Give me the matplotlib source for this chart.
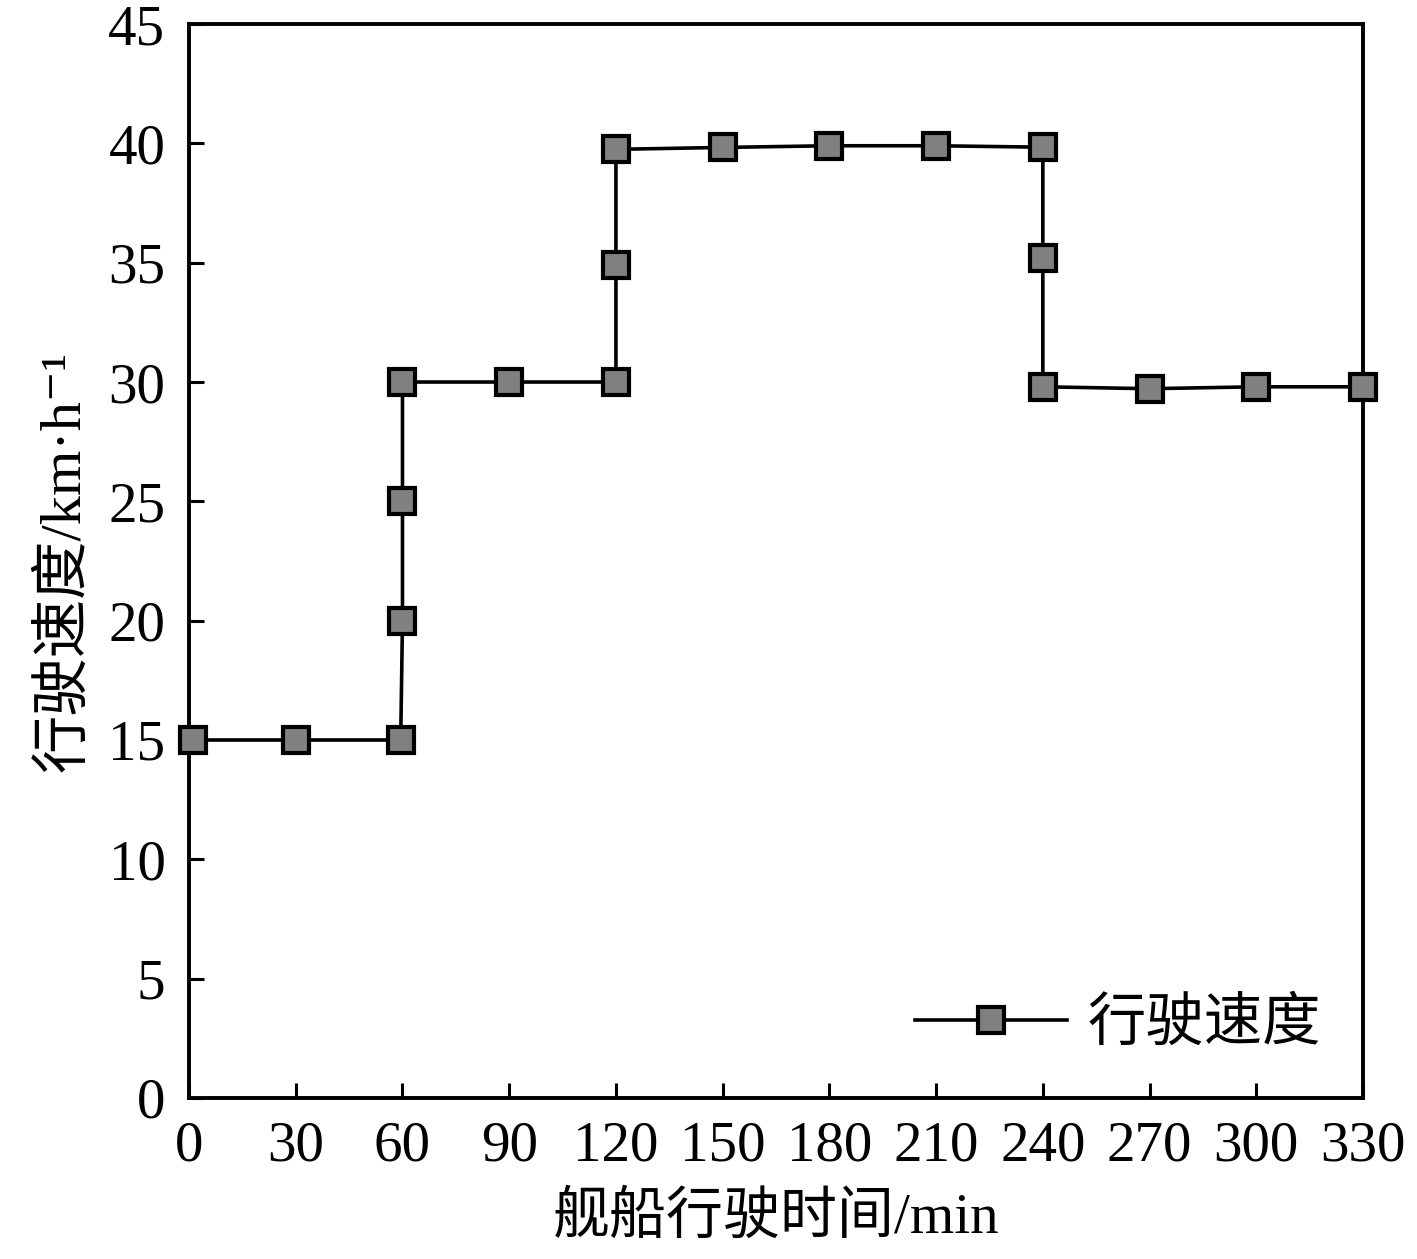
import matplotlib
matplotlib.use('Agg')
import matplotlib.pyplot as plt

plt.rcParams['font.family'] = ['Liberation Serif', 'Noto Sans CJK SC', 'DejaVu Serif']

# 航行时间 (min) 与 行驶速度 (km/h)
time_min = [1, 30, 59.5, 60, 60, 60, 90, 120, 120, 120, 150, 180, 210, 240, 240, 240, 270, 300, 330]
speed = [15, 15, 15, 20, 25, 30, 30, 30, 34.9, 39.75, 39.83, 39.9, 39.9, 39.84, 35.2, 29.8, 29.72, 29.8, 29.8]

x_ticks = list(range(0, 331, 30))
y_ticks = list(range(0, 46, 5))

fig = plt.figure(figsize=(14.17, 12.59), dpi=100)
ax = fig.add_axes([0.1334, 0.1279, 0.8285, 0.853])

ax.plot(time_min, speed, color='black', linewidth=2.6, marker='s', markersize=19,
        markerfacecolor='#808080', markeredgecolor='black', markeredgewidth=3,
        label='行驶速度', clip_on=False, zorder=3)

ax.set_xlim(0, 330)
ax.set_ylim(0, 45)
ax.set_xticks(x_ticks)
ax.set_yticks(y_ticks)
ax.tick_params(direction='in', length=11, width=2.2, labelsize=41)
ax.tick_params(axis='y', pad=17)
ax.tick_params(axis='x', pad=16)
for sp in ax.spines.values():
    sp.set_linewidth(2.8)

ax.set_xlabel('舰船行驶时间/min', fontsize=41, labelpad=14)
ax.set_ylabel('行驶速度/km·h⁻¹', fontsize=42, labelpad=12)

ax.legend(loc='center right', bbox_to_anchor=(0.989, 0.068), frameon=False,
          fontsize=42, handlelength=2.6, handletextpad=0.35, borderpad=0)

fig.savefig('out.png', dpi=100)
